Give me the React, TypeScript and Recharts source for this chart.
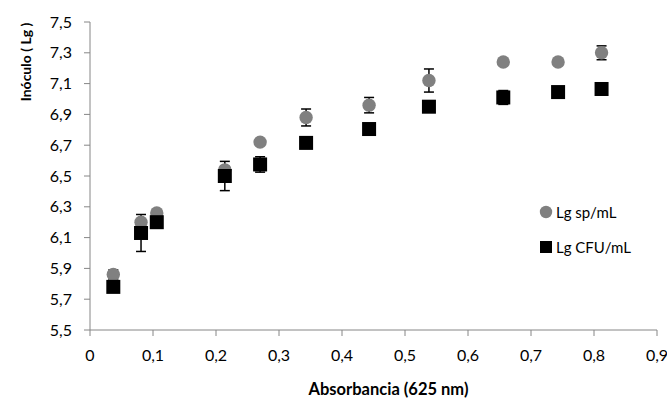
import React from "react";
import {
  ScatterChart,
  Scatter,
  XAxis,
  YAxis,
  ErrorBar,
  Legend,
  Label,
} from "recharts";

// Absorbance (625 nm) readings shared by both series
const absorbance = [0.037, 0.081, 0.106, 0.214, 0.27, 0.343, 0.443, 0.538, 0.656, 0.743, 0.812];

// Lg sp/mL (grey circles) and its error
const lgSp = [5.86, 6.2, 6.26, 6.54, 6.72, 6.88, 6.96, 7.12, 7.24, 7.24, 7.3];
const lgSpErr = [0.03, 0, 0, 0, 0, 0.055, 0.05, 0.075, 0, 0, 0.045];

// Lg CFU/mL (black squares) and its error
const lgCfu = [5.78, 6.13, 6.2, 6.5, 6.575, 6.715, 6.805, 6.95, 7.01, 7.045, 7.065];
const lgCfuErr = [0, 0.12, 0, 0.095, 0.05, 0, 0, 0, 0.045, 0, 0];

const xTicks = [0, 0.1, 0.2, 0.3, 0.4, 0.5, 0.6, 0.7, 0.8, 0.9];
const yTicks = [5.5, 5.7, 5.9, 6.1, 6.3, 6.5, 6.7, 6.9, 7.1, 7.3, 7.5];

const FONT = "Lato, 'Open Sans', sans-serif";
const AXIS = "#868686";
const GREY = "#808080";

const spData = absorbance.map((x, i) => ({ x, y: lgSp[i], err: lgSpErr[i] }));
const cfuData = absorbance.map((x, i) => ({ x, y: lgCfu[i], err: lgCfuErr[i] }));
// only points that actually carry an error bar
const spErrData = spData.filter((d) => d.err > 0);
const cfuErrData = cfuData.filter((d) => d.err > 0);

const comma = (v: number) => String(v).replace(".", ",");

const CircleShape = (props: any) => (
  <circle cx={props.cx} cy={props.cy} r={6.7} fill={GREY} />
);
const SquareShape = (props: any) => (
  <rect x={props.cx - 7} y={props.cy - 7} width={14} height={14} fill="#000" />
);
const NoShape = () => null;

const LegendContent = () => (
  <div style={{ fontFamily: FONT, fontSize: 15, color: "#000" }}>
    <div style={{ display: "flex", alignItems: "center", height: 22 }}>
      <svg width={14} height={14} style={{ marginRight: 3 }}>
        <circle cx={7} cy={7} r={6.2} fill={GREY} />
      </svg>
      Lg sp/mL
    </div>
    <div style={{ display: "flex", alignItems: "center", height: 22, marginTop: 13 }}>
      <svg width={14} height={14} style={{ marginRight: 3 }}>
        <rect x={1} y={1} width={12} height={12} fill="#000" />
      </svg>
      Lg CFU/mL
    </div>
  </div>
);

export default function App() {
  return (
    <div style={{ position: "absolute", left: 0, top: 0, background: "#fff" }}>
      <ScatterChart
        width={667}
        height={398}
        margin={{ top: 22, right: 10, bottom: 38, left: 0 }}
      >
        <XAxis
          type="number"
          dataKey="x"
          domain={[0, 0.9]}
          ticks={xTicks}
          tickFormatter={comma}
          height={30}
          stroke={AXIS}
          tickSize={6}
          tickMargin={14}
          tick={{ fill: "#000", fontSize: 16, fontFamily: FONT }}
          allowDataOverflow
        >
          <Label
            content={(p: any) => (
              <text
                x={p.viewBox.x + p.viewBox.width / 2 + 15}
                y={p.viewBox.y + 65}
                textAnchor="middle"
                fontFamily={FONT}
                fontWeight="bold"
                fontSize={16.5}
                fill="#000"
              >
                Absorbancia  (625 nm)
              </text>
            )}
          />
        </XAxis>
        <YAxis
          type="number"
          dataKey="y"
          domain={[5.5, 7.5]}
          ticks={yTicks}
          tickFormatter={comma}
          width={90}
          stroke={AXIS}
          tickSize={6}
          tickMargin={12}
          tick={{ fill: "#000", fontSize: 16, fontFamily: FONT }}
          allowDataOverflow
        >
          <Label
            content={(p: any) => (
              <text
                x={p.viewBox.x + 25}
                y={62}
                transform={`rotate(-90 ${p.viewBox.x + 25} 62)`}
                textAnchor="middle"
                dominantBaseline="central"
                fontFamily={FONT}
                fontWeight="bold"
                fontSize={14}
                fill="#000"
              >
                Inóculo ( Lg )
              </text>
            )}
          />
        </YAxis>
        <Legend
          layout="vertical"
          align="center"
          verticalAlign="middle"
          content={<LegendContent />}
          wrapperStyle={{ left: 539, top: 201, width: 125 }}
        />
        {/* error bars first so the markers sit on top of them */}
        <Scatter data={spErrData} shape={NoShape} legendType="none" isAnimationActive={false}>
          <ErrorBar dataKey="err" direction="y" width={5} stroke="#000" strokeWidth={1.5} />
        </Scatter>
        <Scatter data={cfuErrData} shape={NoShape} legendType="none" isAnimationActive={false}>
          <ErrorBar dataKey="err" direction="y" width={5} stroke="#000" strokeWidth={1.5} />
        </Scatter>
        <Scatter
          name="Lg sp/mL"
          data={spData}
          shape={CircleShape}
          isAnimationActive={false}
        />
        <Scatter
          name="Lg CFU/mL"
          data={cfuData}
          shape={SquareShape}
          isAnimationActive={false}
        />
      </ScatterChart>
    </div>
  );
}
